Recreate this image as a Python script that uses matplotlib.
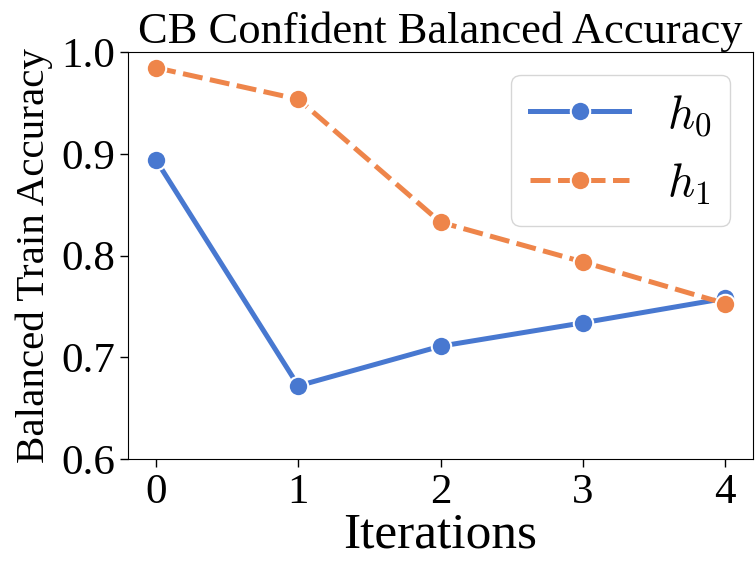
import matplotlib
matplotlib.use("Agg")
import matplotlib.pyplot as plt

# Balanced train accuracy per iteration for the two hypotheses
iterations = [0, 1, 2, 3, 4]
h0_acc = [0.894, 0.672, 0.711, 0.734, 0.758]
h1_acc = [0.985, 0.954, 0.833, 0.794, 0.753]
series_labels = [r"$h_0$", r"$h_1$"]
y_ticks = [0.6, 0.7, 0.8, 0.9, 1.0]

plt.rcParams["font.family"] = ["Liberation Serif", "DejaVu Serif"]
plt.rcParams["mathtext.fontset"] = "cm"

fig = plt.figure(figsize=(7.55, 5.62), dpi=100)
ax = fig.add_axes([127.7 / 755, 1 - 459 / 562, 625.6 / 755, 406.5 / 562])

blue = "#4878d0"
orange = "#ee854a"
lw = 3.6
ax.plot(iterations, h0_acc, color=blue, lw=lw, marker="o", ms=14,
        mec="white", mew=1.5, label=series_labels[0])
ax.plot(iterations, h1_acc, color=orange, lw=lw, marker="o", ms=14,
        mec="white", mew=1.5, dashes=(4, 1.5), label=series_labels[1])

ax.set_ylim(0.6, 1.0)
ax.set_yticks(y_ticks)
ax.set_xticks(iterations)
ax.tick_params(axis="both", labelsize=31, length=5.5, width=1.0)
ax.tick_params(axis="x", pad=5)
ax.set_xlabel("Iterations", fontsize=37, labelpad=0)
ax.set_ylabel("Balanced Train Accuracy", fontsize=29.5, labelpad=6)
ax.set_title("CB Confident Balanced Accuracy", fontsize=32, pad=5)

ax.legend(loc="upper right", fontsize=34, handlelength=2.1,
          bbox_to_anchor=(0.963, 0.945), borderaxespad=0)

fig.savefig("out.png", dpi=100)
